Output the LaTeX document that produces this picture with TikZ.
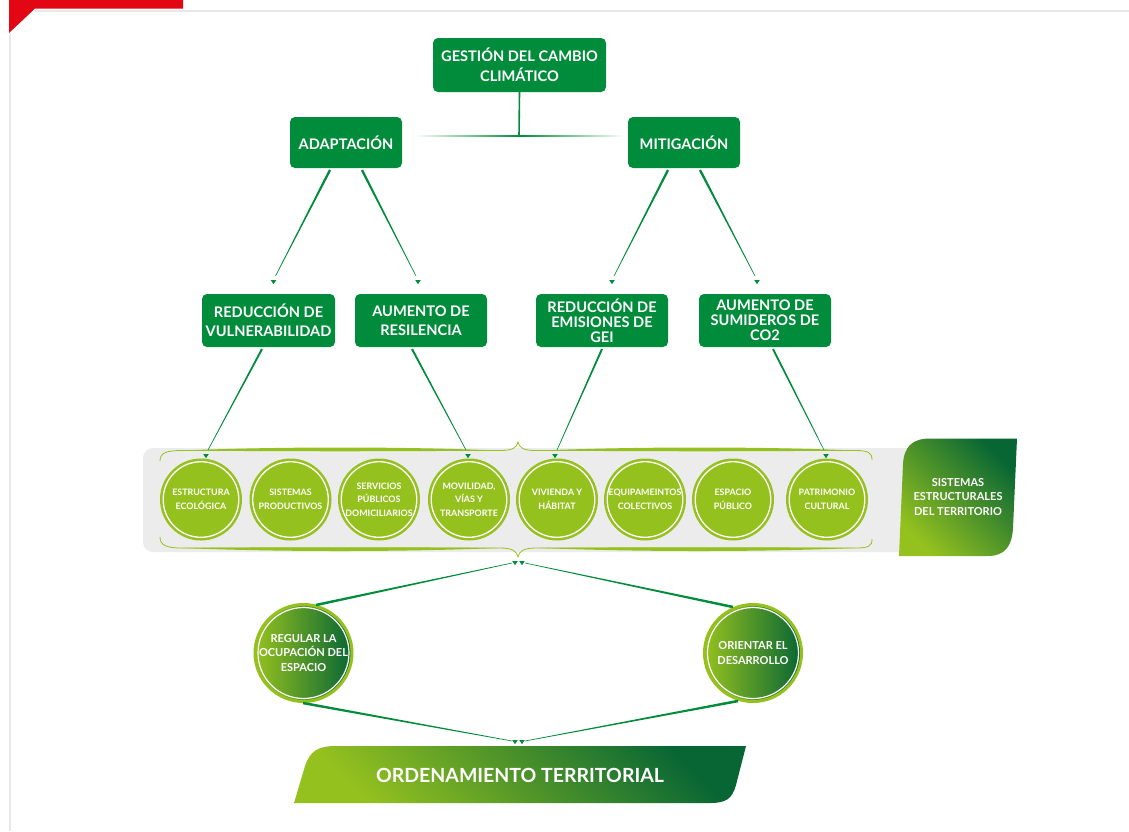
\documentclass[tikz,border=0pt]{standalone}
\usepackage{fontspec}
\setmainfont{Lato}
\usetikzlibrary{calc}
\definecolor{gGreen}{RGB}{0,140,58}
\definecolor{gLime}{RGB}{149,193,31}
\definecolor{gDark}{RGB}{8,102,52}
\definecolor{gGrey}{RGB}{236,236,236}
\definecolor{gFrame}{RGB}{232,232,232}
\definecolor{gRed}{RGB}{227,6,19}
\newcommand\gtaper[3]{\fill[gGreen] ($(#1)!#3!90:(#2)$) -- ($(#2)!0.3pt!-90:(#1)$) -- ($(#2)!0.3pt!90:(#1)$) -- ($(#1)!#3!-90:(#2)$) -- cycle;}
\newcommand\garrow[1]{\fill[gGreen] ($(#1)+(-2.8,-2)$) -- ($(#1)+(2.8,-2)$) -- ($(#1)+(0,2.2)$) -- cycle;}
\tikzset{
  gbox/.style={fill=gGreen, rounded corners=5pt, text=white, align=center, inner sep=0pt,
     font=\bfseries\fontsize{14.6}{19.5}\selectfont},
  limec/.style={circle, fill=gLime, minimum size=82pt, inner sep=0pt, text=white, align=center,
     font=\bfseries\fontsize{8.9}{13.5}\selectfont,
     path picture={\draw[white, line width=1.3pt] (path picture bounding box.center) circle (37.8pt);}},
  gradc/.style={circle, left color=gLime, right color=gDark, draw=gLime, line width=3pt, minimum size=97pt, inner sep=0pt, text=white, align=center,
     font=\bfseries\fontsize{11}{14.5}\selectfont,
     path picture={\draw[white, line width=1.2pt] (path picture bounding box.center) circle (45.5pt);}},
  bannertext/.style={text=white, align=center, font=\bfseries\fontsize{11}{14.5}\selectfont},
  bracethin/.style={draw=gLime, line width=0.8pt},
}
\begin{document}
\begin{tikzpicture}[x=1pt,y=-1pt]
\useasboundingbox (0,0) rectangle (1129,831);
\fill[white] (0,0) rectangle (1129,831);
% frame
\draw[gFrame, line width=2pt] (35,10.5) -- (1129,10.5);
\draw[gFrame, line width=2pt] (10,33) -- (10,831);
\fill[gRed] (9,0) -- (183,0) -- (183,8.5) -- (35,8.5) -- (9,33) -- cycle;

% top boxes
\node[gbox, minimum width=173pt, minimum height=54pt] (gest) at (519.5,65) {GESTIÓN DEL CAMBIO\\CLIMÁTICO};
\node[gbox, minimum width=112pt, minimum height=51pt] (adap) at (346,142.5) {ADAPTACIÓN};
\node[gbox, minimum width=112pt, minimum height=51pt] (miti) at (684,142.5) {MITIGACIÓN};

\coordinate (hub) at (519,136);
\coordinate (hl) at (415,136);
\coordinate (hr) at (625,136);
\draw[gGreen, line width=1.6pt] (gest.south) -- (hub);
\shade[left color=white, right color=white, middle color=gGreen] ($(hl)+(0,-0.9)$) rectangle ($(hr)+(0,0.9)$);

% second row boxes
\node[gbox, minimum width=133pt, minimum height=53pt] (vul) at (268.5,320.5) {REDUCCIÓN DE\\VULNERABILIDAD};
\node[gbox, minimum width=132pt, minimum height=53pt] (res) at (421,320.5) {AUMENTO DE\\RESILENCIA};
\node[gbox, minimum width=132pt, minimum height=53pt, font=\bfseries\fontsize{14.6}{15}\selectfont] (gei) at (602,320.5) {REDUCCIÓN DE\\EMISIONES DE\\GEI};
\node[gbox, minimum width=132pt, minimum height=53pt, font=\bfseries\fontsize{14.6}{15}\selectfont] (co2) at (765,320.5) {AUMENTO DE\\SUMIDEROS DE\\CO2};

% connectors level 1 -> 2
\coordinate (a1s) at (330,170); \coordinate (a1e) at (275.5,276); \coordinate (a1t) at (273.5,282);
\coordinate (a2s) at (362,170); \coordinate (a2e) at (416,276);   \coordinate (a2t) at (418,282);
\coordinate (m1s) at (668,170); \coordinate (m1e) at (614,276);   \coordinate (m1t) at (612,282);
\coordinate (m2s) at (700,170); \coordinate (m2e) at (755,276);   \coordinate (m2t) at (757,282);
\gtaper{a1s}{a1e}{1.2pt}\garrow{a1t}
\gtaper{a2s}{a2e}{1.2pt}\garrow{a2t}
\gtaper{m1s}{m1e}{1.2pt}\garrow{m1t}
\gtaper{m2s}{m2e}{1.2pt}\garrow{m2t}

% grey band
\fill[gGrey, rounded corners=10pt] (143,448) rectangle (920,552);

% braces
\draw[bracethin] (160,461) .. controls (160,453) and (166,450.5) .. (182,450.5) -- (500,450.5) .. controls (512,450.5) and (517,448) .. (518,442) .. controls (519,448) and (524,450.5) .. (536,450.5) -- (855,450.5) .. controls (869,450.5) and (872,453) .. (872,460);
\fill[gLime] (182,450.5) .. controls (280,446.5) and (400,446.5) .. (498,450.5) .. controls (400,451.5) and (280,451.5) .. (182,450.5) -- cycle;
\fill[gLime] (540,450.5) .. controls (640,446.5) and (760,446.5) .. (855,450.5) .. controls (760,451.5) and (640,451.5) .. (540,450.5) -- cycle;
\draw[bracethin] (160,537) .. controls (160,545) and (166,548) .. (182,548) -- (500,548) .. controls (512,548) and (517,551) .. (518,557) .. controls (519,551) and (524,548) .. (536,548) -- (855,548) .. controls (869,548) and (872,546) .. (872,539);
\fill[gLime] (182,548) .. controls (280,552) and (400,552) .. (498,548) .. controls (400,547) and (280,547) .. (182,548) -- cycle;
\fill[gLime] (540,548) .. controls (640,552) and (760,552) .. (855,548) .. controls (760,547) and (640,547) .. (540,548) -- cycle;

% circles row
\node[limec] (c1) at (201,499.5) {ESTRUCTURA\\ECOLÓGICA};
\node[limec] (c2) at (290.5,499.5) {SISTEMAS\\PRODUCTIVOS};
\node[limec] (c3) at (379,499.5) {SERVICIOS\\PÚBLICOS\\DOMICILIARIOS};
\node[limec] (c4) at (469,499.5) {MOVILIDAD,\\VÍAS Y\\TRANSPORTE};
\node[limec] (c5) at (557,499.5) {VIVIENDA Y\\HÁBITAT};
\node[limec] (c6) at (645,499.5) {EQUIPAMEINTOS\\COLECTIVOS};
\node[limec] (c7) at (733,499.5) {ESPACIO\\PÚBLICO};
\node[limec] (c8) at (827,499.5) {PATRIMONIO\\CULTURAL};

% connectors level 2 -> circles
\coordinate (v1s) at (262,349); \coordinate (v1e) at (208,450); \coordinate (v1t) at (206,456);
\coordinate (r1s) at (412,349); \coordinate (r1e) at (466,450); \coordinate (r1t) at (468,456);
\coordinate (g1s) at (602,349); \coordinate (g1e) at (557,450); \coordinate (g1t) at (555,456);
\coordinate (s1s) at (773,349); \coordinate (s1e) at (824,450); \coordinate (s1t) at (826,456);
\gtaper{v1s}{v1e}{1.0pt}\garrow{v1t}
\gtaper{r1s}{r1e}{1.0pt}\garrow{r1t}
\gtaper{g1s}{g1e}{1.0pt}\garrow{g1t}
\gtaper{s1s}{s1e}{1.0pt}\garrow{s1t}

% right banner
\shade[left color=gLime, right color=gDark, shading angle=135] (899,556) -- (903,464) .. controls (904,447) and (912,438.5) .. (930,438.5) -- (1017,438.5) -- (1013,528) .. controls (1012,546) and (1005,556) .. (988,556) -- cycle;
\node[bannertext] (sis) at (958,497) {SISTEMAS\\ESTRUCTURALES\\DEL TERRITORIO};

% bottom circles
\node[gradc] (reg) at (303.5,653) {REGULAR LA\\OCUPACIÓN DEL\\ESPACIO};
\node[gradc] (ori) at (753,653) {ORIENTAR EL\\DESARROLLO};

\coordinate (t1s) at (316,605); \coordinate (t1e) at (512,563); \coordinate (t1t) at (515,563);
\coordinate (t2s) at (733,607); \coordinate (t2e) at (525,563); \coordinate (t2t) at (522,563);
\coordinate (b1s) at (303,703); \coordinate (b1e) at (512,741); \coordinate (b1t) at (515,742);
\coordinate (b2s) at (738,701); \coordinate (b2e) at (525,741); \coordinate (b2t) at (522,742);
\gtaper{t1s}{t1e}{1.3pt}\garrow{t1t}
\gtaper{t2s}{t2e}{1.3pt}\garrow{t2t}
\gtaper{b1s}{b1e}{1.3pt}\garrow{b1t}
\gtaper{b2s}{b2e}{1.3pt}\garrow{b2t}

% bottom banner
\shade[left color=gLime, right color=gDark, shading angle=135] (294,803) -- (305,766) .. controls (310,751) and (318,746) .. (336,746) -- (746,746) -- (736,785) .. controls (732,799) and (726,803) .. (710,803) -- cycle;
\node[bannertext, font=\bfseries\fontsize{19.5}{24}\selectfont] (ord) at (520,775) {ORDENAMIENTO TERRITORIAL};
\end{tikzpicture}
\end{document}
